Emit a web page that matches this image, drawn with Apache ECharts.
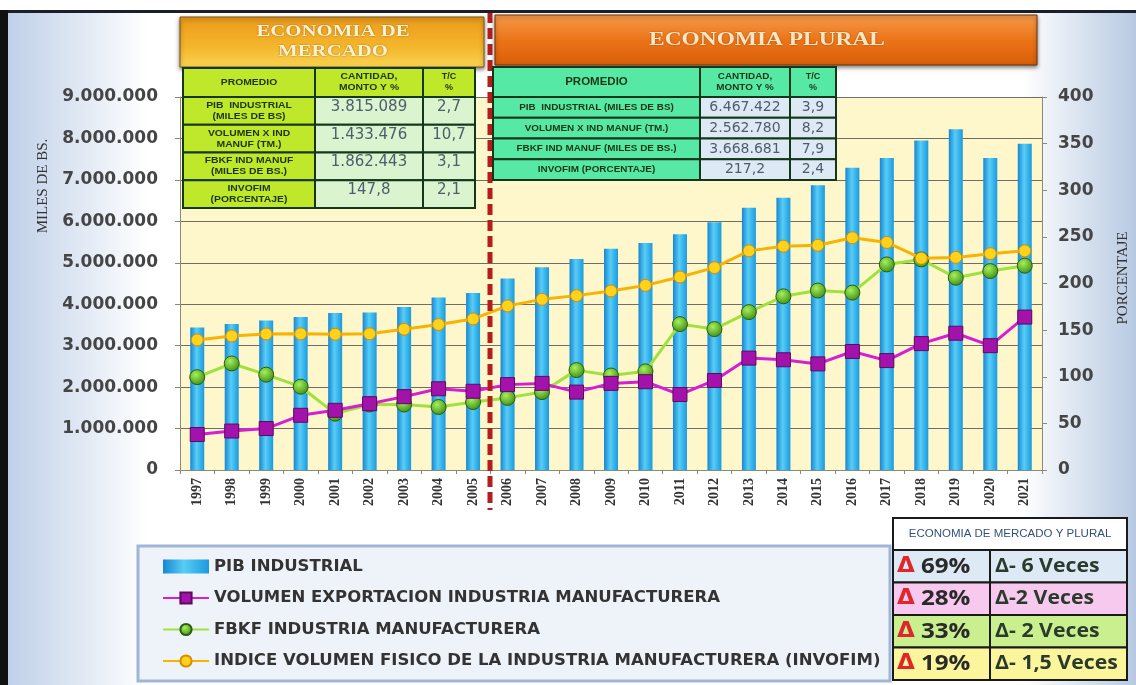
<!DOCTYPE html>
<html>
<head>
<meta charset="utf-8">
<script src="https://cdn.jsdelivr.net/npm/echarts@6/dist/echarts.min.js"></script>
<style>
  html, body { margin: 0; padding: 0; }
  #main { width: 1136px; height: 685px; }
</style>
</head>
<body>
<div id="main"></div>
<script>
// datos
const years = ['1997','1998','1999','2000','2001','2002','2003','2004','2005','2006','2007','2008','2009',
  '2010','2011','2012','2013','2014','2015','2016','2017','2018','2019','2020','2021'];
const pibIndustrial = [3440000, 3520000, 3610000, 3690000, 3790000, 3800000, 3930000, 4160000, 4270000,
  4620000, 4890000, 5090000, 5340000, 5480000, 5690000, 5980000, 6330000, 6570000, 6870000, 7290000,
  7530000, 7950000, 8220000, 7530000, 7870000];
const volumenExport = [856000, 940000, 1000000, 1320000, 1440000, 1600000, 1770000, 1960000, 1900000,
  2060000, 2090000, 1880000, 2090000, 2130000, 1820000, 2160000, 2700000, 2660000, 2560000, 2860000,
  2640000, 3050000, 3300000, 3000000, 3690000];
const fbkf = [2240000, 2570000, 2300000, 2010000, 1360000, 1580000, 1580000, 1520000, 1640000,
  1740000, 1880000, 2410000, 2280000, 2380000, 3520000, 3400000, 3810000, 4190000, 4330000, 4280000,
  4960000, 5080000, 4640000, 4800000, 4930000];
const invofim = [139.5, 143.8, 145.9, 146, 145.6, 146, 151, 156, 162, 176, 183, 187, 192, 198, 207,
  217, 235, 240, 241, 249, 244, 227, 228, 232, 235];

const seriesNames = ['PIB INDUSTRIAL', 'VOLUMEN EXPORTACION INDUSTRIA MANUFACTURERA',
  'FBKF INDUSTRIA MANUFACTURERA', 'INDICE VOLUMEN FISICO DE LA INDUSTRIA MANUFACTURERA (INVOFIM)'];

// tablas de promedios
const tablaHeader = ['PROMEDIO', 'CANTIDAD,\nMONTO Y %', 'T/C\n%'];
const mercadoFilas = ['PIB  INDUSTRIAL\n(MILES DE BS)', 'VOLUMEN X IND\nMANUF (TM.)', 'FBKF IND MANUF\n(MILES DE BS.)', 'INVOFIM\n(PORCENTAJE)'];
const mercadoMonto = ['3.815.089', '1.433.476', '1.862.443', '147,8'];
const mercadoTc = ['2,7', '10,7', '3,1', '2,1'];
const pluralFilas = ['PIB  INDUSTRIAL (MILES DE BS)', 'VOLUMEN X IND MANUF (TM.)', 'FBKF IND MANUF (MILES DE BS.)', 'INVOFIM (PORCENTAJE)'];
const pluralMonto = ['6.467.422', '2.562.780', '3.668.681', '217,2'];
const pluralTc = ['3,9', '8,2', '7,9', '2,4'];
const resumenPct = ['69%', '28%', '33%', '19%'];
const resumenVeces = ['\u0394- 6 Veces', '\u0394-2 Veces', '\u0394- 2 Veces', '\u0394- 1,5 Veces'];
const resumenColores = ['#dde9f4', '#f8c9ef', '#c9ef8e', '#fbf59c'];

const chart = echarts.init(document.getElementById('main'));

function fmtMiles(v) {
  return String(v).replace(/\B(?=(\d{3})+(?!\d))/g, '.');
}

// celda de tabla: rect + texto (opt.tx / opt.ty mueven el texto)
function cell(x, y, w, h, fill, text, font, color, stroke, opt) {
  opt = opt || {};
  const els = [{
    type: 'rect', z: 100,
    shape: { x: x, y: y, width: w, height: h },
    style: { fill: fill, stroke: stroke || '#16361a', lineWidth: 2 }
  }];
  if (text) {
    const align = opt.align || 'center';
    els.push({
      type: 'text', z: 101,
      x: opt.tx !== undefined ? opt.tx : x + w / 2,
      y: opt.ty !== undefined ? opt.ty : y + h / 2,
      scaleX: opt.scaleX || 1,
      style: {
        text: text, font: font, fill: color,
        align: align, verticalAlign: 'middle',
        textAlign: align, textVerticalAlign: 'middle',
        lineHeight: 11, rich: opt.rich
      }
    });
  }
  return els;
}

let graphics = [];

// borde superior e izquierdo
graphics.push({ type: 'rect', z: 90, shape: { x: 0, y: 0, width: 1136, height: 11 }, style: { fill: '#ffffff' } });
graphics.push({ type: 'rect', z: 90, shape: { x: 0, y: 10, width: 1136, height: 3 }, style: { fill: '#1b1f2a' } });
graphics.push({ type: 'rect', z: 90, shape: { x: 0, y: 10, width: 8, height: 675 }, style: { fill: '#111111' } });

// encabezados
graphics.push({
  type: 'rect', z: 95,
  shape: { x: 180, y: 17, width: 304, height: 50 },
  style: {
    fill: new echarts.graphic.LinearGradient(0, 0, 0, 1, [
      { offset: 0, color: '#eb9a1a' }, { offset: 0.6, color: '#f4b62c' }, { offset: 1, color: '#f9d352' }
    ]),
    stroke: '#7a5210', lineWidth: 1, shadowBlur: 4, shadowColor: 'rgba(0,0,0,0.5)', shadowOffsetY: 2
  }
});
graphics.push({
  type: 'text', z: 96, x: 333, y: 42, scaleX: 1.3,
  style: {
    text: 'ECONOMIA DE\nMERCADO', font: 'bold 16px "Liberation Serif"', fill: '#fdf0cf',
    align: 'center', verticalAlign: 'middle', textAlign: 'center', textVerticalAlign: 'middle',
    lineHeight: 20, textShadowColor: 'rgba(120,70,0,0.7)', textShadowBlur: 2
  }
});
graphics.push({
  type: 'rect', z: 95,
  shape: { x: 495, y: 15, width: 542, height: 50 },
  style: {
    fill: new echarts.graphic.LinearGradient(0, 0, 0, 1, [
      { offset: 0, color: '#f69a4a' }, { offset: 0.5, color: '#ec7418' }, { offset: 1, color: '#d95e08' }
    ]),
    stroke: '#6a3208', lineWidth: 1, shadowBlur: 4, shadowColor: 'rgba(0,0,0,0.5)', shadowOffsetY: 2
  }
});
graphics.push({
  type: 'text', z: 96, x: 767, y: 40, scaleX: 1.3,
  style: {
    text: 'ECONOMIA PLURAL', font: 'bold 18px "Liberation Serif"', fill: '#fde6c4',
    align: 'center', verticalAlign: 'middle', textAlign: 'center', textVerticalAlign: 'middle',
    textShadowColor: 'rgba(120,50,0,0.7)', textShadowBlur: 2
  }
});

// tabla economia de mercado
(function () {
  const x = 183, cw = [132, 108, 52], y0 = 68, hh = 29, rh = 27.75;
  const lima = '#bfe82a', pale = '#d9f4cf';
  const hf = 'bold 9px "Liberation Sans"';
  graphics = graphics.concat(cell(x, y0, cw[0], hh, lima, tablaHeader[0], hf, '#1d3510', null, { scaleX: 1.15 }));
  graphics = graphics.concat(cell(x + cw[0], y0, cw[1], hh, lima, tablaHeader[1], hf, '#1d3510', null, { scaleX: 1.15 }));
  graphics = graphics.concat(cell(x + cw[0] + cw[1], y0, cw[2], hh, lima, tablaHeader[2], hf, '#1d3510'));
  mercadoFilas.forEach(function (t, i) {
    const y = y0 + hh + i * rh;
    graphics = graphics.concat(cell(x, y, cw[0], rh, lima, t, hf, '#1d3510', null, { scaleX: 1.15 }));
    graphics = graphics.concat(cell(x + cw[0], y, cw[1], rh, pale, mercadoMonto[i], '15px "DejaVu Sans"', '#4e5d6c', null, { ty: y + 10 }));
    graphics = graphics.concat(cell(x + cw[0] + cw[1], y, cw[2], rh, pale, mercadoTc[i], '15px "DejaVu Sans"', '#4e5d6c', null, { ty: y + 10 }));
  });
})();

// tabla economia plural
(function () {
  const x = 493, cw = [207, 90, 46], y0 = 67, hh = 30, rh = 20.75;
  const agua = '#56e9a6', celeste = '#dde9f4';
  const hf = 'bold 9px "Liberation Sans"';
  graphics = graphics.concat(cell(x, y0, cw[0], hh, agua, tablaHeader[0], 'bold 10px "Liberation Sans"', '#1d3510', null, { scaleX: 1.15 }));
  graphics = graphics.concat(cell(x + cw[0], y0, cw[1], hh, agua, tablaHeader[1], hf, '#1d3510', null, { scaleX: 1.1 }));
  graphics = graphics.concat(cell(x + cw[0] + cw[1], y0, cw[2], hh, agua, tablaHeader[2], hf, '#1d3510'));
  pluralFilas.forEach(function (t, i) {
    const y = y0 + hh + i * rh;
    graphics = graphics.concat(cell(x, y, cw[0], rh, agua, t, hf, '#1d3510', null, { scaleX: 1.1 }));
    graphics = graphics.concat(cell(x + cw[0], y, cw[1], rh, celeste, pluralMonto[i], '14px "DejaVu Sans"', '#4e5d6c'));
    graphics = graphics.concat(cell(x + cw[0] + cw[1], y, cw[2], rh, celeste, pluralTc[i], '14px "DejaVu Sans"', '#4e5d6c'));
  });
})();

// tabla resumen abajo a la derecha
(function () {
  const x0 = 893, cw = [97, 137], y0 = 518, hh = 32, rh = 32.5;
  graphics = graphics.concat(cell(x0, y0, cw[0] + cw[1], hh, '#ffffff', 'ECONOMIA DE MERCADO Y PLURAL',
    '10px "Liberation Sans"', '#34507a', '#1a1a1a', { scaleX: 1.15 }));
  resumenPct.forEach(function (p, i) {
    const y = y0 + hh + i * rh;
    graphics = graphics.concat(cell(x0, y, cw[0], rh, resumenColores[i], '{d|\u0394} {p|' + p + '}', 'bold 21px "Open Sans"', '#222', '#1a1a1a', {
      tx: x0 + 4, align: 'left', scaleX: 1.1,
      rich: {
        d: { font: 'bold 21px "DejaVu Sans"', fill: '#e0262a' },
        p: { font: 'bold 22px "Open Sans"', fill: '#2a2a2a' }
      }
    }));
    graphics = graphics.concat(cell(x0 + cw[0], y, cw[1], rh, resumenColores[i], resumenVeces[i], 'bold 19px "Open Sans"', '#2b3a2b', '#1a1a1a', {
      tx: x0 + cw[0] + 5, align: 'left', scaleX: 1.12
    }));
  });
})();

// caja de leyenda
graphics.push({
  type: 'rect', z: 0,
  shape: { x: 138, y: 546, width: 752, height: 135 },
  style: { fill: '#eef3fa', stroke: '#9fb6d6', lineWidth: 3 }
});

// linea divisoria 2005/2006
graphics.push({
  type: 'line', z: 60,
  shape: { x1: 490, y1: 12, x2: 490, y2: 510 },
  style: { stroke: '#b51d1d', lineWidth: 5, lineDash: [11, 5] }
});

// titulos de ejes
graphics.push({
  type: 'text', z: 20, x: 43, y: 186, rotation: Math.PI / 2,
  style: {
    text: 'MILES DE BS.', font: '15px "Liberation Serif"', fill: '#333',
    align: 'center', verticalAlign: 'middle', textAlign: 'center', textVerticalAlign: 'middle'
  }
});
graphics.push({
  type: 'text', z: 20, x: 1123, y: 278, rotation: Math.PI / 2,
  style: {
    text: 'PORCENTAJE', font: '15px "Liberation Serif"', fill: '#333',
    align: 'center', verticalAlign: 'middle', textAlign: 'center', textVerticalAlign: 'middle'
  }
});

const barGradient = new echarts.graphic.LinearGradient(0, 0, 1, 0, [
  { offset: 0, color: '#1786d2' }, { offset: 0.45, color: '#58cdf6' }, { offset: 1, color: '#1a9ade' }
]);

const option = {
  backgroundColor: {
    type: 'linear', x: 0, y: 0, x2: 1, y2: 0,
    colorStops: [
      { offset: 0, color: '#bccde7' }, { offset: 0.13, color: '#ffffff' },
      { offset: 0.9, color: '#ffffff' }, { offset: 1, color: '#b7c9e2' }
    ]
  },
  animation: false,
  grid: {
    left: 180, right: 94, top: 97, bottom: 215,
    show: true, backgroundColor: '#fdf7cb', borderWidth: 0
  },
  legend: {
    orient: 'vertical', left: 162, top: 558, height: 125, padding: 0, z: 10,
    itemWidth: 46, itemHeight: 14, itemGap: 14.5,
    textStyle: { fontFamily: 'DejaVu Sans', fontWeight: 'bold', fontSize: 16.5, color: '#333' },
    data: [
      { name: seriesNames[0], icon: 'rect' },
      { name: seriesNames[1] },
      { name: seriesNames[2] },
      { name: seriesNames[3] }
    ]
  },
  xAxis: {
    type: 'category', data: years,
    axisLine: { lineStyle: { color: '#8a8a7a', width: 1 } },
    axisTick: { show: true, length: 4, lineStyle: { color: '#8a8a7a' } },
    axisLabel: {
      rotate: 90, margin: 8,
      fontFamily: 'Liberation Serif', fontWeight: 'bold', fontSize: 14, color: '#333'
    }
  },
  yAxis: [{
    type: 'value', min: 0, max: 9000000, interval: 1000000,
    axisLine: { show: true, lineStyle: { color: '#8a8a7a' } },
    axisTick: { show: true, length: 5, lineStyle: { color: '#8a8a7a' } },
    splitLine: { lineStyle: { color: '#6e6e64', width: 1 } },
    axisLabel: {
      margin: 22, formatter: fmtMiles,
      fontFamily: 'DejaVu Sans', fontWeight: 'bold', fontSize: 17, color: '#454545'
    }
  }, {
    type: 'value', min: 0, max: 400, interval: 50,
    axisLine: { show: true, lineStyle: { color: '#8a8a7a' } },
    axisTick: { show: true, length: 5, lineStyle: { color: '#8a8a7a' } },
    splitLine: { show: false },
    axisLabel: {
      margin: 16,
      fontFamily: 'DejaVu Sans', fontWeight: 'bold', fontSize: 17, color: '#454545'
    }
  }],
  series: [{
    name: seriesNames[0], type: 'bar', data: pibIndustrial, barWidth: 14, z: 2,
    itemStyle: { color: barGradient }
  }, {
    name: seriesNames[1], type: 'line', data: volumenExport, z: 5,
    symbol: 'rect', symbolSize: 14,
    lineStyle: { color: '#d61ed4', width: 3 },
    itemStyle: { color: '#a312ab', borderColor: '#5c0a60', borderWidth: 1 }
  }, {
    name: seriesNames[2], type: 'line', data: fbkf, z: 4,
    symbol: 'circle', symbolSize: 15,
    lineStyle: { color: '#9fe23c', width: 3 },
    itemStyle: {
      color: new echarts.graphic.RadialGradient(0.4, 0.35, 0.7, [
        { offset: 0, color: '#a6f05a' }, { offset: 1, color: '#3b8a14' }
      ]),
      borderColor: '#2b5e10', borderWidth: 1
    }
  }, {
    name: seriesNames[3], type: 'line', data: invofim, yAxisIndex: 1, z: 6,
    symbol: 'circle', symbolSize: 12,
    lineStyle: { color: '#f6b400', width: 3 },
    itemStyle: { color: '#ffd21c', borderColor: '#d88c00', borderWidth: 1 }
  }],
  graphic: graphics
};

chart.setOption(option);
</script>
</body>
</html>
